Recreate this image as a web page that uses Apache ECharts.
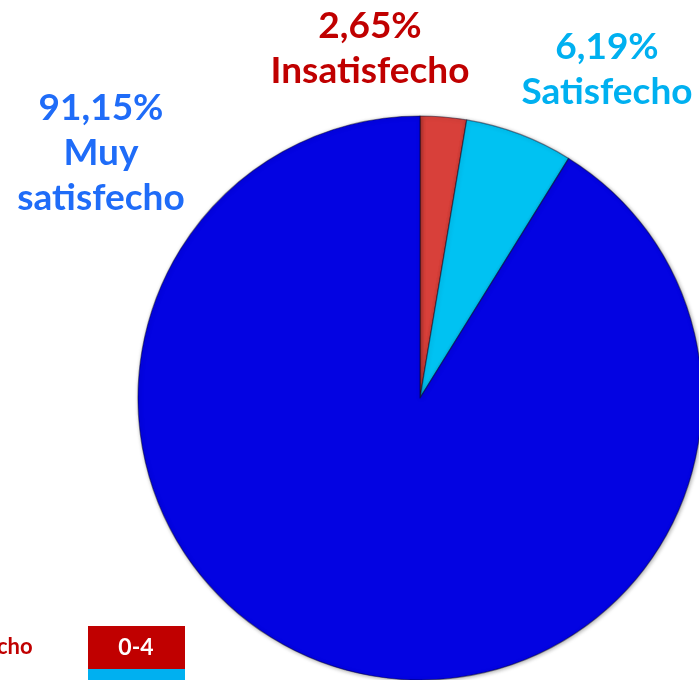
<!DOCTYPE html>
<html><head><meta charset="utf-8">
<script src="https://cdn.jsdelivr.net/npm/echarts@6/dist/echarts.min.js"></script>
<style>html,body{margin:0;padding:0;background:#fff}#c{width:699px;height:680px}</style>
</head><body><div id="c"></div>
<script>
const categories = ['Insatisfecho', 'Satisfecho', 'Muy satisfecho'];
const values = [2.65, 6.19, 91.15];
const labelLines = [['2,65%', 'Insatisfecho'], ['6,19%', 'Satisfecho'], ['91,15%', 'Muy', 'satisfecho']];
const sliceColors = ['#d8403a', '#00c2f2', '#0303e2'];
const labelColors = ['#c00000', '#00b0f0', '#1f6cf8'];
const legendText = ['cho', '0-4'];

const chart = echarts.init(document.getElementById('c'));
const labelPos = [[370, 4], [607, 25], [101, 86]];
const graphic = labelLines.map((lines, i) => ({
  type: 'text', x: labelPos[i][0], y: labelPos[i][1],
  style: { text: lines.join('\n'), fill: labelColors[i], font: 'bold 37px Lato', lineHeight: 45, align: 'center', verticalAlign: 'top' }
}));
graphic.push(
  { type: 'text', x: -3, y: 636, style: { text: legendText[0], fill: '#c00000', font: 'bold 22px Lato' } },
  { type: 'rect', shape: { x: 88, y: 626, width: 97, height: 43 }, style: { fill: '#c00000' } },
  { type: 'rect', shape: { x: 88, y: 669, width: 97, height: 12 }, style: { fill: '#00b0f0' } },
  { type: 'text', x: 136, y: 648, style: { text: legendText[1], fill: '#fff', font: 'bold 23px Lato', align: 'center', verticalAlign: 'middle' } }
);
chart.setOption({
  animation: false,
  graphic: graphic,
  series: [{
    type: 'pie', center: [420, 398], radius: 282, startAngle: 90, clockwise: true,
    label: { show: false }, labelLine: { show: false },
    itemStyle: { borderColor: 'rgba(0,0,30,0.45)', borderWidth: 1.2, shadowBlur: 4, shadowColor: 'rgba(0,0,0,0.35)', shadowOffsetX: 1, shadowOffsetY: 1 },
    data: categories.map((c, i) => ({ name: c, value: values[i], itemStyle: { color: sliceColors[i] } }))
  }]
});
</script></body></html>
